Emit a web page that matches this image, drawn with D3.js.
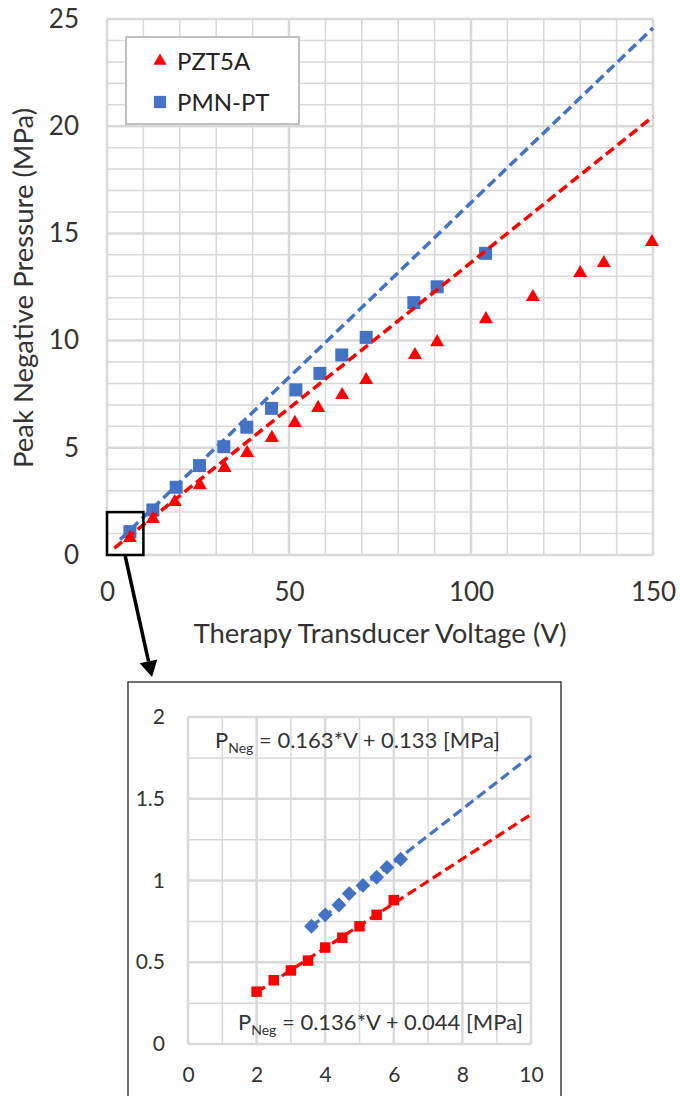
<!DOCTYPE html>
<html>
<head>
<meta charset="utf-8">
<script src="https://cdn.jsdelivr.net/npm/d3@7"></script>
<style>
  body { margin: 0; background: #fff; }
  svg { display: block; font-family: Lato, "Open Sans", sans-serif; }
  .tick text { fill: #333; }
</style>
</head>
<body>
<script>
// main chart data
var pztVolts = [6.3, 12.6, 18.6, 25.5, 32.3, 38.5, 45.3, 51.6, 58, 64.6, 71.2, 84.6, 90.7, 104.1, 117, 130, 136.5, 149.7];
var pztPress = [0.8, 1.68, 2.47, 3.26, 4.06, 4.76, 5.46, 6.16, 6.86, 7.46, 8.16, 9.33, 9.93, 11.0, 12.03, 13.15, 13.62, 14.6];
var pmnVolts = [6.3, 12.6, 19, 25.4, 32.1, 38.4, 45.2, 51.9, 58.5, 64.5, 71.2, 84.3, 90.7, 104];
var pmnPress = [1.09, 2.1, 3.16, 4.17, 5.05, 5.96, 6.84, 7.7, 8.47, 9.33, 10.15, 11.77, 12.51, 14.07];

// low voltage data for the inset
var insetPztVolts = [2, 2.5, 3, 3.5, 4, 4.5, 5, 5.5, 6];
var insetPztPress = [0.32, 0.39, 0.45, 0.51, 0.59, 0.65, 0.72, 0.79, 0.88];
var insetPmnVolts = [3.6, 4, 4.4, 4.7, 5.1, 5.5, 5.8, 6.2];
var insetPmnPress = [0.72, 0.79, 0.85, 0.92, 0.97, 1.02, 1.08, 1.13];

// linear fits: P = slope*V + intercept, [PZT5A, PMN-PT]
var fitSlopes = [0.136, 0.163];
var fitIntercepts = [0.044, 0.133];
var fitStart = [2, 3.6];

var seriesNames = ["PZT5A", "PMN-PT"];
var xTicks = [0, 50, 100, 150];
var yTicks = [0, 5, 10, 15, 20, 25];
var insetXTicks = [0, 2, 4, 6, 8, 10];
var insetYTicks = [0, 0.5, 1, 1.5, 2];

var red = "#ff0000", blue = "#4472c4";
var gridColor = "#d9d9d9";
var textColor = "#333";

var svg = d3.select("body").append("svg")
  .attr("width", 680)
  .attr("height", 1096);

var x = d3.scaleLinear().domain([0, 150]).range([107, 653]);
var y = d3.scaleLinear().domain([0, 25]).range([555, 19]);

function grid(g, xs, ys, xStep, yStep, xMajor, yMajor) {
  var xv = d3.range(xs.domain()[0], xs.domain()[1] + 1e-9, xStep);
  var yv = d3.range(ys.domain()[0], ys.domain()[1] + 1e-9, yStep);
  var isMajor = function(v, m) { return Math.abs(v / m - Math.round(v / m)) < 1e-6; };
  g.selectAll(".vgrid").data(xv).join("line")
    .attr("x1", function(d) { return xs(d); })
    .attr("x2", function(d) { return xs(d); })
    .attr("y1", ys.range()[0]).attr("y2", ys.range()[1])
    .attr("stroke", gridColor)
    .attr("stroke-width", function(d) { return isMajor(d, xMajor) ? 2.5 : 1.5; });
  g.selectAll(".hgrid").data(yv).join("line")
    .attr("y1", function(d) { return ys(d); })
    .attr("y2", function(d) { return ys(d); })
    .attr("x1", xs.range()[0]).attr("x2", xs.range()[1])
    .attr("stroke", gridColor)
    .attr("stroke-width", function(d) { return isMajor(d, yMajor) ? 2.5 : 1.5; });
}

function fitLine(i, xs, ys, xEnd) {
  var pts = [fitStart[i], xEnd].map(function(v) { return [v, fitSlopes[i] * v + fitIntercepts[i]]; });
  return d3.line().x(function(d) { return xs(d[0]); }).y(function(d) { return ys(d[1]); })(pts);
}

// ---- main chart ----
var main = svg.append("g");
grid(main.append("g"), x, y, 10, 1, 50, 5);

main.append("g")
  .attr("transform", "translate(0," + y(0) + ")")
  .call(d3.axisBottom(x).tickValues(xTicks).tickSize(0).tickPadding(28))
  .call(function(g) { g.select(".domain").remove(); })
  .selectAll("text").attr("font-size", 26).attr("font-family", "Lato");

main.append("g")
  .attr("transform", "translate(" + x(0) + ",0)")
  .call(d3.axisLeft(y).tickValues(yTicks).tickSize(0).tickPadding(28))
  .call(function(g) { g.select(".domain").remove(); })
  .selectAll("text").attr("font-size", 26).attr("font-family", "Lato");

main.append("g").selectAll("path").data(pmnVolts).join("path")
  .attr("transform", function(d, i) { return "translate(" + x(d) + "," + y(pmnPress[i]) + ")"; })
  .attr("d", d3.symbol(d3.symbolSquare, 169))
  .attr("fill", blue);

main.append("g").selectAll("path").data(pztVolts).join("path")
  .attr("transform", function(d, i) { return "translate(" + x(d) + "," + y(pztPress[i]) + ")"; })
  .attr("d", d3.symbol(d3.symbolTriangle, 85))
  .attr("fill", red);

[0, 1].forEach(function(i) {
  main.append("path")
    .attr("d", fitLine(i, x, y, 150))
    .attr("fill", "none")
    .attr("stroke", i === 0 ? red : blue)
    .attr("stroke-width", 3.5)
    .attr("stroke-dasharray", "10,5");
});

main.append("text")
  .attr("x", 380).attr("y", 643)
  .attr("text-anchor", "middle")
  .attr("font-size", 27.5)
  .attr("fill", textColor)
  .text("Therapy Transducer Voltage (V)");

main.append("text")
  .attr("transform", "translate(33,288) rotate(-90)")
  .attr("text-anchor", "middle")
  .attr("font-size", 27.5)
  .attr("fill", textColor)
  .text("Peak Negative Pressure (MPa)");

// legend
var legend = main.append("g").attr("transform", "translate(126,37)");
legend.append("rect")
  .attr("width", 173).attr("height", 87)
  .attr("fill", "#fff")
  .attr("stroke", "#bfbfbf")
  .attr("stroke-width", 2);
seriesNames.forEach(function(name, i) {
  var row = legend.append("g").attr("transform", "translate(34," + (24 + i * 41) + ")");
  row.append("path")
    .attr("d", d3.symbol(i === 0 ? d3.symbolTriangle : d3.symbolSquare, i === 0 ? 75 : 150))
    .attr("fill", i === 0 ? red : blue);
  row.append("text")
    .attr("x", 17).attr("y", 9)
    .attr("font-size", 24)
    .attr("fill", "#222")
    .text(name);
});

// zoom box around the low voltage corner
main.append("rect")
  .attr("x", x(0)).attr("y", y(2))
  .attr("width", x(10) - x(0)).attr("height", y(0) - y(2))
  .attr("fill", "none")
  .attr("stroke", "#000")
  .attr("stroke-width", 2.5);

// ---- inset ----
var inLeft = 128, inTop = 682;
var ix = d3.scaleLinear().domain([0, 10]).range([188, 531]);
var iy = d3.scaleLinear().domain([0, 2]).range([1044, 717]);

svg.append("rect")
  .attr("x", inLeft).attr("y", inTop)
  .attr("width", 561 - inLeft).attr("height", 1200 - inTop)
  .attr("fill", "#fff")
  .attr("stroke", "#404040")
  .attr("stroke-width", 1.5);

// arrow from zoom box to inset
var ax0 = x(5), ay0 = y(0) + 1, ax1 = inLeft + 24, ay1 = inTop - 5;
var ang = Math.atan2(ay1 - ay0, ax1 - ax0);
var headL = 16, headW = 9;
var bx = ax1 - headL * Math.cos(ang), by = ay1 - headL * Math.sin(ang);
svg.append("line")
  .attr("x1", ax0).attr("y1", ay0).attr("x2", bx).attr("y2", by)
  .attr("stroke", "#000").attr("stroke-width", 3.5);
svg.append("path")
  .attr("d", "M" + ax1 + "," + ay1 +
    "L" + (bx + headW * Math.sin(ang)) + "," + (by - headW * Math.cos(ang)) +
    "L" + (bx - headW * Math.sin(ang)) + "," + (by + headW * Math.cos(ang)) + "Z")
  .attr("fill", "#000");

var inset = svg.append("g");
grid(inset.append("g"), ix, iy, 1, 0.25, 2, 0.5);

inset.append("g")
  .attr("transform", "translate(0," + iy(0) + ")")
  .call(d3.axisBottom(ix).tickValues(insetXTicks).tickSize(0).tickPadding(23))
  .call(function(g) { g.select(".domain").remove(); })
  .selectAll("text").attr("font-size", 21).attr("font-family", "Lato");

inset.append("g")
  .attr("transform", "translate(" + ix(0) + ",0)")
  .call(d3.axisLeft(iy).tickValues(insetYTicks).tickFormat(d3.format("~g")).tickSize(0).tickPadding(23))
  .call(function(g) { g.select(".domain").remove(); })
  .selectAll("text").attr("font-size", 21).attr("font-family", "Lato");

inset.append("g").selectAll("path").data(insetPztVolts).join("path")
  .attr("transform", function(d, i) { return "translate(" + ix(d) + "," + iy(insetPztPress[i]) + ")"; })
  .attr("d", d3.symbol(d3.symbolSquare, 110))
  .attr("fill", red);

inset.append("g").selectAll("path").data(insetPmnVolts).join("path")
  .attr("transform", function(d, i) { return "translate(" + ix(d) + "," + iy(insetPmnPress[i]) + ") rotate(45)"; })
  .attr("d", d3.symbol(d3.symbolSquare, 110))
  .attr("fill", blue);

[0, 1].forEach(function(i) {
  inset.append("path")
    .attr("d", fitLine(i, ix, iy, 10))
    .attr("fill", "none")
    .attr("stroke", i === 0 ? red : blue)
    .attr("stroke-width", 3.2)
    .attr("stroke-dasharray", "10,5");
});

function equation(px, py, i) {
  var t = inset.append("text")
    .attr("x", px).attr("y", py)
    .attr("font-size", 22)
    .attr("fill", textColor);
  t.append("tspan").text("P");
  t.append("tspan").attr("font-size", 14).attr("dy", 5).text("Neg");
  t.append("tspan").attr("dy", -5)
    .text(" = " + fitSlopes[i].toFixed(3) + "*V + " + fitIntercepts[i].toFixed(3) + " [MPa]");
}
equation(215, 748, 1);
equation(238, 1030, 0);
</script>
</body>
</html>
